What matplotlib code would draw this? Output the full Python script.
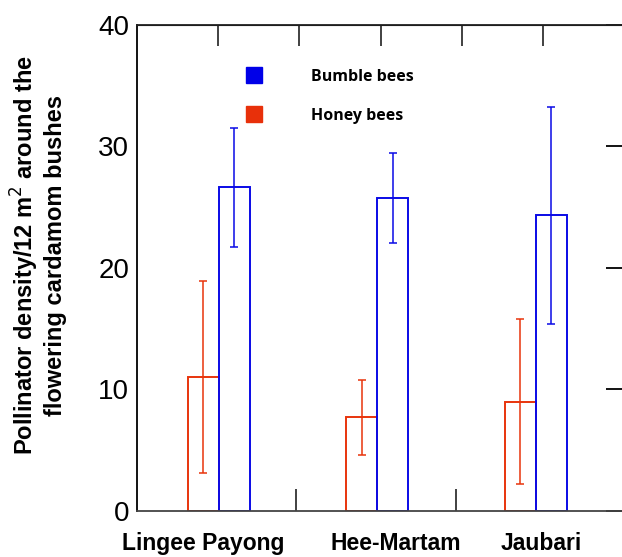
import matplotlib

matplotlib.use("Agg")
import matplotlib.pyplot as plt
import numpy as np
from matplotlib.lines import Line2D

# data
sites = ["Lingee Payong", "Hee-Martam", "Jaubari"]
honey_mean = [11.0, 7.7, 9.0]
honey_err = [7.9, 3.1, 6.8]
bumble_mean = [26.6, 25.7, 24.3]
bumble_err = [4.9, 3.7, 8.9]

red = "#e8340c"
blue = "#0a0ae6"

plt.rcParams["font.family"] = ["Liberation Sans", "DejaVu Sans"]

fig = plt.figure(figsize=(6.22, 5.57), dpi=100)
ax = fig.add_axes([0.221, 0.0826, 0.7815, 0.8734])

x = np.arange(len(sites))
w = 0.195
ax.bar(x - w / 2, honey_mean, w, facecolor="none", edgecolor=red, linewidth=1.4)
ax.bar(x + w / 2, bumble_mean, w, facecolor="none", edgecolor=blue, linewidth=1.4)
ax.errorbar(x - w / 2, honey_mean, yerr=honey_err, fmt="none", ecolor=red,
            elinewidth=1.1, capsize=3.2, capthick=1.1)
ax.errorbar(x + w / 2, bumble_mean, yerr=bumble_err, fmt="none", ecolor=blue,
            elinewidth=1.1, capsize=3.2, capthick=1.1)

ax.set_xlim(-0.514, 2.555)
ax.set_ylim(0, 40)
ax.set_yticks([0, 10, 20, 30, 40])
ax.tick_params(axis="y", labelsize=20, direction="in", length=0, pad=6)

# category labels, separators as minor ticks
ax.set_xticks([-0.098, 1.114, 2.035])
ax.set_xticklabels(sites, fontsize=16.5, fontweight="bold")
ax.tick_params(axis="x", which="major", length=0, pad=15)
ax.set_xticks([0.49, 1.495], minor=True)
ax.tick_params(axis="x", which="minor", direction="in", length=16, width=1.3, color="#333333")

for sp in ax.spines.values():
    sp.set_linewidth(1.3)
ax.spines["bottom"].set_color("#444444")
ax.spines["top"].set_color("#222222")

# top ticks dividing the frame in six
top = ax.secondary_xaxis("top", functions=(lambda v: v, lambda v: v))
xl = ax.get_xlim()
top.set_xticks([xl[0] + (xl[1] - xl[0]) * k / 6 for k in range(1, 6)])
top.tick_params(direction="in", length=15, width=1.3, labeltop=False, color="#333333")

right = ax.secondary_yaxis("right")
right.set_yticks([0, 10, 20, 30, 40])
right.tick_params(direction="in", length=13, width=1.3, labelright=False)

handles = [
    Line2D([], [], marker="s", linestyle="none", color="#0000e8", markersize=11.5),
    Line2D([], [], marker="s", linestyle="none", color="#e8300a", markersize=11.5),
]
ax.legend(handles, ["Bumble bees", "Honey bees"], loc="upper left",
          bbox_to_anchor=(0.177, 0.939), frameon=False, handletextpad=2.6,
          labelspacing=1.44, prop={"family": ["Open Sans", "DejaVu Sans"], "weight": "bold", "size": 11.5})

fig.text(0.061, 0.542, "Pollinator density/12 m$^2$ around the\nflowering cardamom bushes",
         rotation=90, ha="center", va="center", fontsize=17, fontweight="bold",
         multialignment="center", linespacing=1.15)

fig.savefig("out.png", dpi=100)
